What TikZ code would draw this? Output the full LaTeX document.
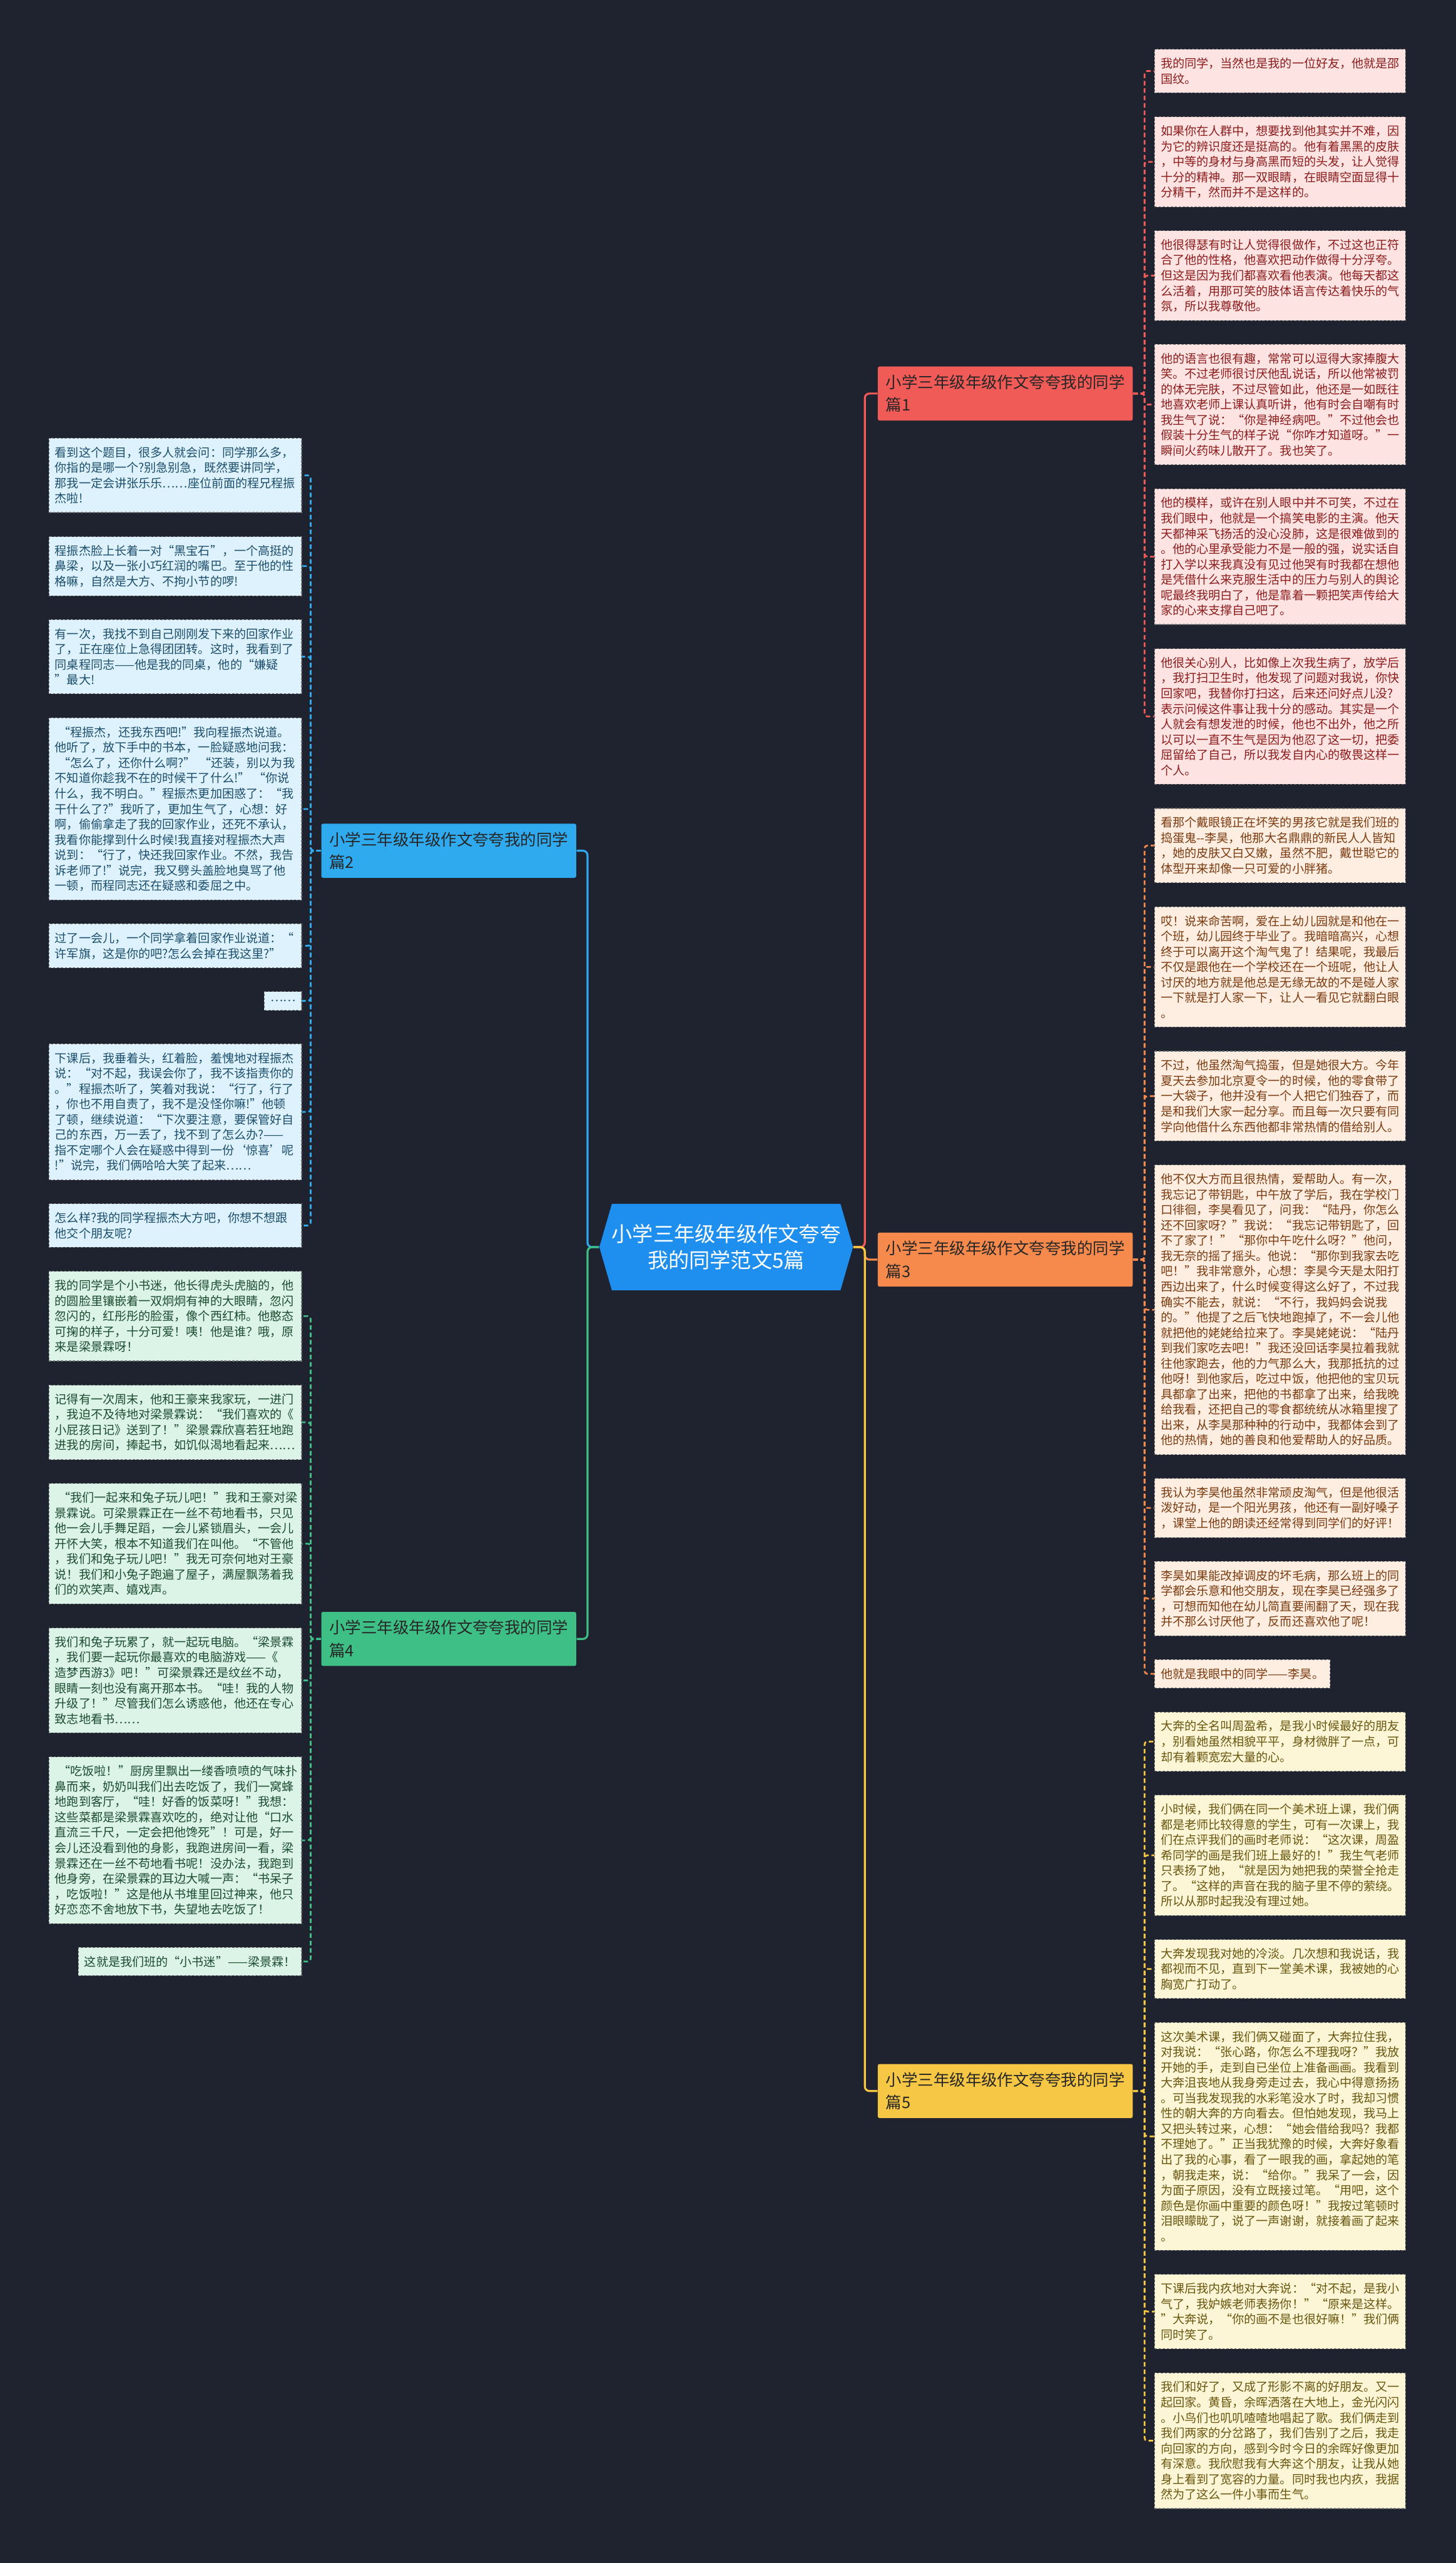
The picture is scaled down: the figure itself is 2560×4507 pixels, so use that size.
\documentclass[tikz,border=0pt]{standalone}
\usepackage{fontspec}
\setmainfont{Noto Sans CJK SC}
\definecolor{bg}{HTML}{1F2330}
\definecolor{cmain}{HTML}{1E8FEF}
\definecolor{redB}{HTML}{F05B57}
\definecolor{redL}{HTML}{FDE4E3}
\definecolor{redT}{HTML}{8C1C1C}
\definecolor{bluB}{HTML}{2FAAEF}
\definecolor{bluL}{HTML}{DDF2FC}
\definecolor{bluT}{HTML}{1C4E6C}
\definecolor{oraB}{HTML}{F68A4C}
\definecolor{oraL}{HTML}{FEEDE1}
\definecolor{oraT}{HTML}{7A3B10}
\definecolor{grnB}{HTML}{3DBF86}
\definecolor{grnL}{HTML}{DCF3E8}
\definecolor{grnT}{HTML}{1C4C30}
\definecolor{yelB}{HTML}{F6C744}
\definecolor{yelL}{HTML}{FCF5D6}
\definecolor{yelT}{HTML}{68560F}
\tikzset{
 leafbase/.style={rectangle, draw=black!55, dash pattern=on 0.04cm off 0.03cm, line width=0.012cm,
   inner xsep=0.105cm, inner ysep=0.15cm, align=left, font=\fontsize{5.975pt}{7.682pt}\selectfont},
 rw/.style={text width=4.2cm},
 lw/.style={text width=4.23cm},
 rleaf/.style={leafbase, anchor=north west},
 lleaf/.style={leafbase, anchor=north east},
 redleaf/.style={fill=redL, text=redT},
 bluleaf/.style={fill=bluL, text=bluT},
 oraleaf/.style={fill=oraL, text=oraT},
 grnleaf/.style={fill=grnL, text=grnT},
 yelleaf/.style={fill=yelL, text=yelT},
 branch/.style={rectangle, rounded corners=0.03cm, minimum width=4.48cm, minimum height=0.95cm, text width=4.2cm,
   inner xsep=0.14cm, align=left, text=black!85, font=\fontsize{7.97pt}{11.4pt}\selectfont},
 centerbox/.style={minimum width=4.46cm, minimum height=1.52cm, inner sep=0pt, align=center, text=white,
   font=\fontsize{10.4pt}{13.1pt}\selectfont},
 mainline/.style={line width=0.035cm, rounded corners=0.08cm},
 leafline/.style={line width=0.03cm, dash pattern=on 0.08cm off 0.05cm, rounded corners=0.05cm}
}
\begin{document}
\begin{tikzpicture}[x=0.01cm,y=-0.01cm]
\fill[bg] (0,0) rectangle (2560,4507);
\useasboundingbox (0,0) rectangle (2560,4507);

% centre
\fill[cmain] (1054,2193) -- (1076,2117) -- (1478,2117) -- (1500,2193) -- (1478,2269) -- (1076,2269) -- cycle;
\node[centerbox] (c) at (1277,2193) {小学三年级年级作文夸夸\\我的同学范文5篇};

% branches
\node[branch, fill=redB, anchor=west] (b1) at (1543,692) {小学三年级年级作文夸夸我的同学\\篇1};
\node[branch, fill=oraB, anchor=west] (b3) at (1543,2215) {小学三年级年级作文夸夸我的同学\\篇3};
\node[branch, fill=yelB, anchor=west] (b5) at (1543,3677) {小学三年级年级作文夸夸我的同学\\篇5};
\node[branch, fill=bluB, anchor=east] (b2) at (1014,1496) {小学三年级年级作文夸夸我的同学\\篇2};
\node[branch, fill=grnB, anchor=east] (b4) at (1014,2882) {小学三年级年级作文夸夸我的同学\\篇4};

\draw[mainline, redB] (c.east) -- ++(20,0) |- (b1.west);
\draw[mainline, oraB] (c.east) -- ++(20,0) |- (b3.west);
\draw[mainline, yelB] (c.east) -- ++(20,0) |- (b5.west);
\draw[mainline, bluB] (c.west) -- ++(-20,0) |- (b2.east);
\draw[mainline, grnB] (c.west) -- ++(-20,0) |- (b4.east);

% ---- branch 1 leaves
\node[rleaf, rw, redleaf] (r1a) at (2030,86) {我的同学，当然也是我的一位好友，他就是邵\\国纹。};
\node[rleaf, rw, redleaf] (r1b) at (2030,205) {如果你在人群中，想要找到他其实并不难，因\\为它的辨识度还是挺高的。他有着黑黑的皮肤\\，中等的身材与身高黑而短的头发，让人觉得\\十分的精神。那一双眼睛，在眼睛空面显得十\\分精干，然而并不是这样的。};
\node[rleaf, rw, redleaf] (r1c) at (2030,405) {他很得瑟有时让人觉得很做作，不过这也正符\\合了他的性格，他喜欢把动作做得十分浮夸。\\但这是因为我们都喜欢看他表演。他每天都这\\么活着，用那可笑的肢体语言传达着快乐的气\\氛，所以我尊敬他。};
\node[rleaf, rw, redleaf] (r1d) at (2030,605) {他的语言也很有趣，常常可以逗得大家捧腹大\\笑。不过老师很讨厌他乱说话，所以他常被罚\\的体无完肤，不过尽管如此，他还是一如既往\\地喜欢老师上课认真听讲，他有时会自嘲有时\\我生气了说：“你是神经病吧。”不过他会也\\假装十分生气的样子说“你咋才知道呀。”一\\瞬间火药味儿散开了。我也笑了。};
\node[rleaf, rw, redleaf] (r1e) at (2030,859) {他的模样，或许在别人眼中并不可笑，不过在\\我们眼中，他就是一个搞笑电影的主演。他天\\天都神采飞扬活的没心没肺，这是很难做到的\\。他的心里承受能力不是一般的强，说实话自\\打入学以来我真没有见过他哭有时我都在想他\\是凭借什么来克服生活中的压力与别人的舆论\\呢最终我明白了，他是靠着一颗把笑声传给大\\家的心来支撑自己吧了。};
\node[rleaf, rw, redleaf] (r1f) at (2030,1140) {他很关心别人，比如像上次我生病了，放学后\\，我打扫卫生时，他发现了问题对我说，你快\\回家吧，我替你打扫这，后来还问好点儿没?\\表示问候这件事让我十分的感动。其实是一个\\人就会有想发泄的时候，他也不出外，他之所\\以可以一直不生气是因为他忍了这一切，把委\\屈留给了自己，所以我发自内心的敬畏这样一\\个人。};
\foreach \n in {r1a,r1b,r1c,r1d,r1e,r1f} \draw[leafline, redB] (b1.east) -- ++(20,0) |- (\n.west);

% ---- branch 3 leaves
\node[rleaf, rw, oraleaf] (r3a) at (2030,1421) {看那个戴眼镜正在坏笑的男孩它就是我们班的\\捣蛋鬼-{}-李昊，他那大名鼎鼎的新民人人皆知\\，她的皮肤又白又嫩，虽然不肥，戴世聪它的\\体型开来却像一只可爱的小胖猪。};
\node[rleaf, rw, oraleaf] (r3b) at (2030,1594) {哎！说来命苦啊，爱在上幼儿园就是和他在一\\个班，幼儿园终于毕业了。我暗暗高兴，心想\\终于可以离开这个淘气鬼了！结果呢，我最后\\不仅是跟他在一个学校还在一个班呢，他让人\\讨厌的地方就是他总是无缘无故的不是碰人家\\一下就是打人家一下，让人一看见它就翻白眼\\。};
\node[rleaf, rw, oraleaf] (r3c) at (2030,1848) {不过，他虽然淘气捣蛋，但是她很大方。今年\\夏天去参加北京夏令一的时候，他的零食带了\\一大袋子，他并没有一个人把它们独吞了，而\\是和我们大家一起分享。而且每一次只要有同\\学向他借什么东西他都非常热情的借给别人。};
\node[rleaf, rw, oraleaf] (r3d) at (2030,2048) {他不仅大方而且很热情，爱帮助人。有一次，\\我忘记了带钥匙，中午放了学后，我在学校门\\口徘徊，李昊看见了，问我：“陆丹，你怎么\\还不回家呀？”我说：“我忘记带钥匙了，回\\不了家了！”“那你中午吃什么呀？”他问，\\我无奈的摇了摇头。他说：“那你到我家去吃\\吧！”我非常意外，心想：李昊今天是太阳打\\西边出来了，什么时候变得这么好了，不过我\\确实不能去，就说：“不行，我妈妈会说我\\的。”他提了之后飞快地跑掉了，不一会儿他\\就把他的姥姥给拉来了。李昊姥姥说：“陆丹\\到我们家吃去吧！”我还没回话李昊拉着我就\\往他家跑去，他的力气那么大，我那抵抗的过\\他呀！到他家后，吃过中饭，他把他的宝贝玩\\具都拿了出来，把他的书都拿了出来，给我晚\\给我看，还把自己的零食都统统从冰箱里搜了\\出来，从李昊那种种的行动中，我都体会到了\\他的热情，她的善良和他爱帮助人的好品质。};
\node[rleaf, rw, oraleaf] (r3e) at (2030,2599) {我认为李昊他虽然非常顽皮淘气，但是他很活\\泼好动，是一个阳光男孩，他还有一副好嗓子\\，课堂上他的朗读还经常得到同学们的好评！};
\node[rleaf, rw, oraleaf] (r3f) at (2030,2745) {李昊如果能改掉调皮的坏毛病，那么班上的同\\学都会乐意和他交朋友，现在李昊已经强多了\\，可想而知他在幼儿简直要闹翻了天，现在我\\并不那么讨厌他了，反而还喜欢他了呢！};
\node[rleaf, oraleaf] (r3g) at (2030,2918) {他就是我眼中的同学——李昊。};
\foreach \n in {r3a,r3b,r3c,r3d,r3e,r3f,r3g} \draw[leafline, oraB] (b3.east) -- ++(20,0) |- (\n.west);

% ---- branch 5 leaves
\node[rleaf, rw, yelleaf] (r5a) at (2030,3010) {大奔的全名叫周盈希，是我小时候最好的朋友\\，别看她虽然相貌平平，身材微胖了一点，可\\却有着颗宽宏大量的心。};
\node[rleaf, rw, yelleaf] (r5b) at (2030,3156) {小时候，我们俩在同一个美术班上课，我们俩\\都是老师比较得意的学生，可有一次课上，我\\们在点评我们的画时老师说：“这次课，周盈\\希同学的画是我们班上最好的！”我生气老师\\只表扬了她，“就是因为她把我的荣誉全抢走\\了。“这样的声音在我的脑子里不停的萦绕。\\所以从那时起我没有理过她。};
\node[rleaf, rw, yelleaf] (r5c) at (2030,3410) {大奔发现我对她的冷淡。几次想和我说话，我\\都视而不见，直到下一堂美术课，我被她的心\\胸宽广打动了。};
\node[rleaf, rw, yelleaf] (r5d) at (2030,3556) {这次美术课，我们俩又碰面了，大奔拉住我，\\对我说：“张心路，你怎么不理我呀？”我放\\开她的手，走到自已坐位上准备画画。我看到\\大奔沮丧地从我身旁走过去，我心中得意扬扬\\。可当我发现我的水彩笔没水了时，我却习惯\\性的朝大奔的方向看去。但怕她发现，我马上\\又把头转过来，心想：“她会借给我吗？我都\\不理她了。”正当我犹豫的时候，大奔好象看\\出了我的心事，看了一眼我的画，拿起她的笔\\，朝我走来，说：“给你。”我呆了一会，因\\为面子原因，没有立既接过笔。“用吧，这个\\颜色是你画中重要的颜色呀！”我按过笔顿时\\泪眼矇眬了，说了一声谢谢，就接着画了起来\\。};
\node[rleaf, rw, yelleaf] (r5e) at (2030,3999) {下课后我内疚地对大奔说：“对不起，是我小\\气了，我妒嫉老师表扬你！”“原来是这样。\\”大奔说，“你的画不是也很好嘛！”我们俩\\同时笑了。};
\node[rleaf, rw, yelleaf] (r5f) at (2030,4172) {我们和好了，又成了形影不离的好朋友。又一\\起回家。黄昏，余晖洒落在大地上，金光闪闪\\。小鸟们也叽叽喳喳地唱起了歌。我们俩走到\\我们两家的分岔路了，我们告别了之后，我走\\向回家的方向，感到今时今日的余晖好像更加\\有深意。我欣慰我有大奔这个朋友，让我从她\\身上看到了宽容的力量。同时我也内疚，我据\\然为了这么一件小事而生气。};
\foreach \n in {r5a,r5b,r5c,r5d,r5e,r5f} \draw[leafline, yelB] (b5.east) -- ++(20,0) |- (\n.west);

% ---- branch 2 leaves
\node[lleaf, lw, bluleaf] (l2a) at (531,770) {看到这个题目，很多人就会问：同学那么多，\\你指的是哪一个?别急别急，既然要讲同学，\\那我一定会讲张乐乐……座位前面的程兄程振\\杰啦!};
\node[lleaf, lw, bluleaf] (l2b) at (531,943) {程振杰脸上长着一对“黑宝石”，一个高挺的\\鼻梁，以及一张小巧红润的嘴巴。至于他的性\\格嘛，自然是大方、不拘小节的啰!};
\node[lleaf, lw, bluleaf] (l2c) at (531,1089) {有一次，我找不到自己刚刚发下来的回家作业\\了，正在座位上急得团团转。这时，我看到了\\同桌程同志——他是我的同桌，他的“嫌疑\\”最大!};
\node[lleaf, lw, bluleaf] (l2d) at (531,1262) {\hspace*{0.3em}“程振杰，还我东西吧!”我向程振杰说道。\\他听了，放下手中的书本，一脸疑惑地问我：\\\hspace*{0.3em}“怎么了，还你什么啊?”\hspace{0.3em}“还装，别以为我\\不知道你趁我不在的时候干了什么!”\hspace{0.3em}“你说\\什么，我不明白。”程振杰更加困惑了：“我\\干什么了?”我听了，更加生气了，心想：好\\啊，偷偷拿走了我的回家作业，还死不承认，\\我看你能撑到什么时候!我直接对程振杰大声\\说到：“行了，快还我回家作业。不然，我告\\诉老师了!”说完，我又劈头盖脸地臭骂了他\\一顿，而程同志还在疑惑和委屈之中。};
\node[lleaf, lw, bluleaf] (l2e) at (531,1624) {过了一会儿，一个同学拿着回家作业说道：“\\许军旗，这是你的吧?怎么会掉在我这里?”};
\node[lleaf, bluleaf] (l2f) at (531,1743) {……};
\node[lleaf, lw, bluleaf] (l2g) at (531,1835) {下课后，我垂着头，红着脸，羞愧地对程振杰\\说：“对不起，我误会你了，我不该指责你的\\。”程振杰听了，笑着对我说：“行了，行了\\，你也不用自责了，我不是没怪你嘛!”他顿\\了顿，继续说道：“下次要注意，要保管好自\\己的东西，万一丢了，找不到了怎么办?——\\指不定哪个人会在疑惑中得到一份‘惊喜’呢\\!”说完，我们俩哈哈大笑了起来……};
\node[lleaf, lw, bluleaf] (l2h) at (531,2116) {怎么样?我的同学程振杰大方吧，你想不想跟\\他交个朋友呢?};
\foreach \n in {l2a,l2b,l2c,l2d,l2e,l2f,l2g,l2h} \draw[leafline, bluB] (b2.west) -- ++(-18,0) |- (\n.east);

% ---- branch 4 leaves
\node[lleaf, lw, grnleaf] (l4a) at (531,2235) {我的同学是个小书迷，他长得虎头虎脑的，他\\的圆脸里镶嵌着一双炯炯有神的大眼睛，忽闪\\忽闪的，红彤彤的脸蛋，像个西红柿。他憨态\\可掬的样子，十分可爱！咦！他是谁？哦，原\\来是梁景霖呀！};
\node[lleaf, lw, grnleaf] (l4b) at (531,2435) {记得有一次周末，他和王豪来我家玩，一进门\\，我迫不及待地对梁景霖说：“我们喜欢的《\\小屁孩日记》送到了！”梁景霖欣喜若狂地跑\\进我的房间，捧起书，如饥似渴地看起来……};
\node[lleaf, lw, grnleaf] (l4c) at (531,2608) {\hspace*{0.3em}“我们一起来和兔子玩儿吧！”我和王豪对梁\\景霖说。可梁景霖正在一丝不苟地看书，只见\\他一会儿手舞足蹈，一会儿紧锁眉头，一会儿\\开怀大笑，根本不知道我们在叫他。“不管他\\，我们和兔子玩儿吧！”我无可奈何地对王豪\\说！我们和小兔子跑遍了屋子，满屋飘荡着我\\们的欢笑声、嬉戏声。};
\node[lleaf, lw, grnleaf] (l4d) at (531,2862) {我们和兔子玩累了，就一起玩电脑。“梁景霖\\，我们要一起玩你最喜欢的电脑游戏——《\\造梦西游3》吧！”可梁景霖还是纹丝不动，\\眼睛一刻也没有离开那本书。“哇！我的人物\\升级了！”尽管我们怎么诱惑他，他还在专心\\致志地看书……};
\node[lleaf, lw, grnleaf] (l4e) at (531,3089) {\hspace*{0.3em}“吃饭啦！”厨房里飘出一缕香喷喷的气味扑\\鼻而来，奶奶叫我们出去吃饭了，我们一窝蜂\\地跑到客厅，“哇！好香的饭菜呀！”我想：\\这些菜都是梁景霖喜欢吃的，绝对让他“口水\\直流三千尺，一定会把他馋死”！可是，好一\\会儿还没看到他的身影，我跑进房间一看，梁\\景霖还在一丝不苟地看书呢！没办法，我跑到\\他身旁，在梁景霖的耳边大喊一声：“书呆子\\，吃饭啦！”这是他从书堆里回过神来，他只\\好恋恋不舍地放下书，失望地去吃饭了！};
\node[lleaf, grnleaf] (l4f) at (531,3424) {这就是我们班的“小书迷”——梁景霖！};
\foreach \n in {l4a,l4b,l4c,l4d,l4e,l4f} \draw[leafline, grnB] (b4.west) -- ++(-18,0) |- (\n.east);
\end{tikzpicture}
\end{document}
